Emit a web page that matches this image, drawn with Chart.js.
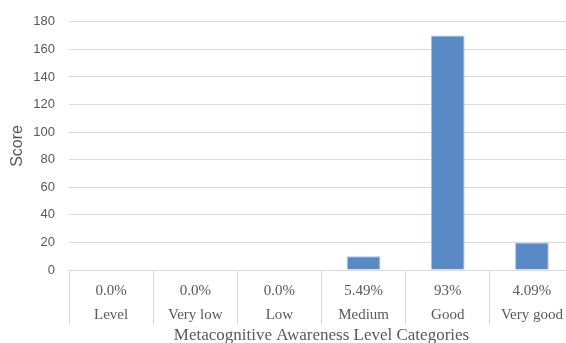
<!DOCTYPE html>
<html>
<head>
<meta charset="utf-8">
<script src="https://cdn.jsdelivr.net/npm/chart.js@4.4.1/dist/chart.umd.min.js"></script>
<style>
  html, body { margin: 0; padding: 0; background: #fff; overflow: hidden; }
  #wrap { width: 574px; height: 343px; overflow: hidden; }
</style>
</head>
<body>
<div id="wrap"><canvas id="chart" width="574" height="346"></canvas></div>
<script>
const categories = ["Level", "Very low", "Low", "Medium", "Good", "Very good"];
const percentages = ["0.0%", "0.0%", "0.0%", "5.49%", "93%", "4.09%"];
const scores = [0, 0, 0, 10, 170, 20];
const yTicks = [0, 20, 40, 60, 80, 100, 120, 140, 160, 180];

const labels = categories.map((c, i) => [percentages[i], c]);

const ctx = document.getElementById("chart").getContext("2d");
new Chart(ctx, {
    type: "bar",
    data: {
        labels: labels,
        datasets: [
            {
                label: "Score",
                data: scores,
                backgroundColor: "#5a8ac6",
                borderColor: "#a7c1e4",
                borderWidth: 1,
                barPercentage: 0.4,
                categoryPercentage: 1.0,
            },
        ],
    },
    options: {
        responsive: false,
        animation: false,
        devicePixelRatio: 1,
        layout: { padding: { top: 20, left: 3, right: 0, bottom: 0 } },
        plugins: {
            legend: { display: false },
            tooltip: { enabled: false },
        },
        scales: {
            x: {
                offset: true,
                afterFit: (axis) => { axis.height = 76; },
                grid: {
                    offset: true,
                    drawOnChartArea: false,
                    drawTicks: true,
                    tickLength: 55,
                    color: "#d9d9d9",
                },
                border: { display: true, color: "#d9d9d9" },
                ticks: {
                    padding: -46,
                    color: "#595959",
                    maxRotation: 0,
                    autoSkip: false,
                    font: { family: "'Liberation Serif'", size: 15, lineHeight: 1.6 },
                },
                title: {
                    display: true,
                    text: "Metacognitive Awareness Level Categories",
                    color: "#595959",
                    padding: { top: 0, bottom: 0 },
                    font: { family: "'Liberation Serif'", size: 17 },
                },
            },
            y: {
                min: 0,
                max: 180,
                afterFit: (axis) => { axis.width = 66; },
                afterBuildTicks: (axis) => {
                    axis.ticks = yTicks.map(v => ({ value: v }));
                },
                grid: { color: "#d9d9d9", drawTicks: false },
                border: { display: false },
                ticks: {
                    padding: 14,
                    color: "#595959",
                    font: { family: "'Liberation Sans'", size: 13 },
                },
                title: {
                    display: true,
                    text: "Score",
                    color: "#595959",
                    padding: { top: 5, bottom: 0 },
                    font: { family: "'Liberation Sans'", size: 16 },
                },
            },
        },
    },
});
</script>
</body>
</html>
